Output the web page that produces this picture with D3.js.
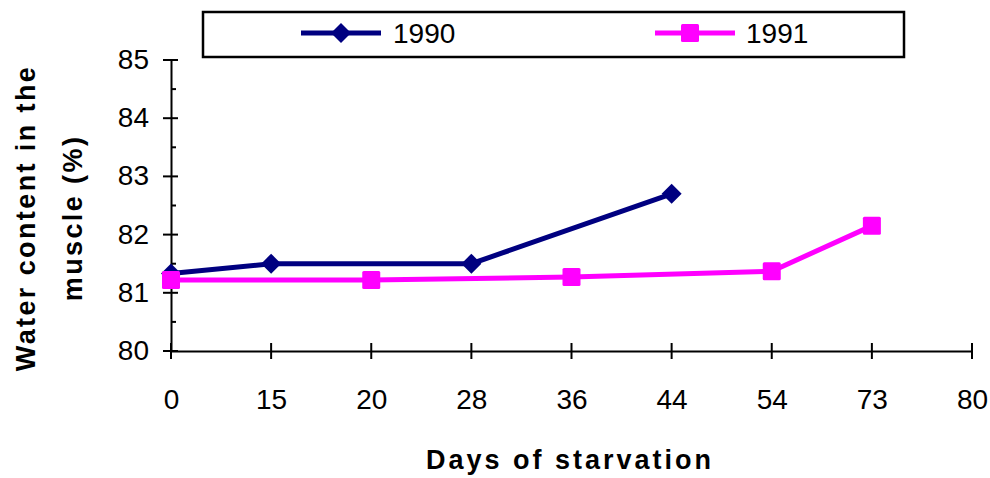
<!DOCTYPE html>
<html><head><meta charset="utf-8">
<script src="https://cdn.jsdelivr.net/npm/d3@7"></script>
<style>body{margin:0;background:#fff;} svg{display:block;}</style>
</head><body>
<svg id="c" width="990" height="478"></svg>
<script>
const categories = ["0","15","20","28","36","44","54","73","80"];
const days1990 = ["0","15","28","44"];
const values1990 = [81.33, 81.5, 81.5, 82.7];
const days1991 = ["0","20","36","54","73"];
const values1991 = [81.22, 81.22, 81.27, 81.37, 82.15];
const yTicks = [80, 81, 82, 83, 84, 85];
const yMinorTicks = [80.5, 81.5, 82.5, 83.5, 84.5];
const seriesNames = ["1990", "1991"];

const svg = d3.select("#c");
const font = "Liberation Sans, Arial, sans-serif";
const x = d3.scalePoint().domain(categories).range([171, 972]);
const y = d3.scaleLinear().domain([80, 85]).range([351, 60]);

// axes
const yAxis = d3.axisLeft(y).tickValues(yTicks).tickSize(0).tickPadding(8).tickFormat(d3.format("d"));
const gy = svg.append("g").attr("transform", "translate(171,0)").call(yAxis);
gy.select(".domain").attr("stroke", "#000").attr("stroke-width", 2);
gy.selectAll(".tick text").attr("font-family", font).attr("font-size", 28).attr("fill", "#000").attr("dx", "-14").attr("dy", "0.3em");
gy.selectAll(".tick line").remove();
svg.append("g").selectAll("line").data(yTicks).join("line")
  .attr("x1", 163).attr("x2", 178).attr("y1", d => y(d)).attr("y2", d => y(d))
  .attr("stroke", "#000").attr("stroke-width", 2);
svg.append("g").selectAll("line").data(yMinorTicks).join("line")
  .attr("x1", 171).attr("x2", 176).attr("y1", d => y(d)).attr("y2", d => y(d))
  .attr("stroke", "#000").attr("stroke-width", 2);

const xAxis = d3.axisBottom(x).tickSize(0).tickPadding(38);
const gx = svg.append("g").attr("transform", "translate(0,351)").call(xAxis);
gx.select(".domain").attr("stroke", "#000").attr("stroke-width", 2);
gx.selectAll(".tick line").remove();
gx.selectAll(".tick text").attr("font-family", font).attr("font-size", 28).attr("fill", "#000");
svg.append("g").selectAll("line").data(categories).join("line")
  .attr("x1", d => x(d)).attr("x2", d => x(d)).attr("y1", 343).attr("y2", 359)
  .attr("stroke", "#000").attr("stroke-width", 2);

// titles
svg.append("text").attr("x", 570).attr("y", 469).attr("text-anchor", "middle")
  .attr("font-family", font).attr("font-weight", "bold").attr("font-size", 27)
  .attr("letter-spacing", 3).text("Days of starvation");
const yt = svg.append("text").attr("transform", "translate(0,218) rotate(-90)").attr("text-anchor", "middle")
  .attr("font-family", font).attr("font-weight", "bold").attr("font-size", 27).attr("letter-spacing", 2.4);
yt.append("tspan").attr("x", 0).attr("y", 35).text("Water content in the");
yt.append("tspan").attr("x", 0).attr("y", 82).text("muscle (%)");

// series
const line = d3.line().x(d => x(d[0])).y(d => y(d[1]));
const d90 = days1990.map((d, i) => [d, values1990[i]]);
const d91 = days1991.map((d, i) => [d, values1991[i]]);

svg.append("path").datum(d90).attr("d", line).attr("fill", "none").attr("stroke", "#000080").attr("stroke-width", 5);
svg.append("g").selectAll("path").data(d90).join("path")
  .attr("d", d3.symbol(d3.symbolSquare, 200)())
  .attr("transform", d => `translate(${x(d[0])},${y(d[1])}) rotate(45)`)
  .attr("fill", "#000080");

svg.append("path").datum(d91).attr("d", line).attr("fill", "none").attr("stroke", "#FF00FF").attr("stroke-width", 5);
svg.append("g").selectAll("rect").data(d91).join("rect")
  .attr("x", d => x(d[0]) - 9).attr("y", d => y(d[1]) - 9).attr("width", 18).attr("height", 18).attr("rx", 1.5)
  .attr("fill", "#FF00FF");

// legend
svg.append("rect").attr("x", 203).attr("y", 12).attr("width", 701).attr("height", 45)
  .attr("fill", "#fff").attr("stroke", "#000").attr("stroke-width", 2.5);
const leg = [{name: seriesNames[0], x0: 301, mk: 341, tx: 393, color: "#000080", type: "diamond"},
             {name: seriesNames[1], x0: 655, mk: 690, tx: 746, color: "#FF00FF", type: "square"}];
leg.forEach(l => {
  svg.append("line").attr("x1", l.x0).attr("x2", l.x0 + 80).attr("y1", 33).attr("y2", 33)
    .attr("stroke", l.color).attr("stroke-width", 5);
  if (l.type === "diamond") {
    svg.append("path").attr("d", d3.symbol(d3.symbolSquare, 200)())
      .attr("transform", `translate(${l.mk},33) rotate(45)`).attr("fill", l.color);
  } else {
    svg.append("rect").attr("x", l.mk - 9).attr("y", 24).attr("width", 18).attr("height", 18).attr("rx", 1.5).attr("fill", l.color);
  }
  svg.append("text").attr("x", l.tx).attr("y", 43).attr("font-family", font).attr("font-size", 28)
    .text(l.name);
});
</script>
</body></html>
